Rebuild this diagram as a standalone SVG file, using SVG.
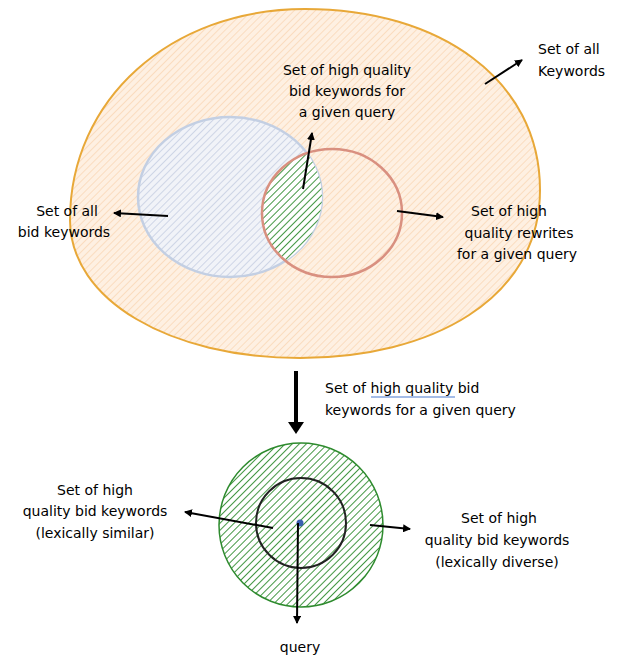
<svg xmlns="http://www.w3.org/2000/svg" width="618" height="658" viewBox="0 0 618 658">
<style>
text{font-family:"DejaVu Sans",sans-serif;font-size:14px;fill:#000}
.c{stroke:#000;stroke-width:2;fill:none;marker-end:url(#a)}
</style>
<defs>
<marker id="a" markerWidth="8" markerHeight="8" refX="7" refY="4" orient="auto" markerUnits="userSpaceOnUse"><path d="M0,0 L8,4 L0,8 z" fill="#000"/></marker>
<pattern id="po" width="5" height="5" patternUnits="userSpaceOnUse" patternTransform="rotate(45)"><rect width="5" height="5" fill="#fef0e2"/><line x1="0" y1="0" x2="0" y2="5" stroke="#f9d6b4" stroke-width="1.5"/></pattern>
<pattern id="pb" width="5" height="5" patternUnits="userSpaceOnUse" patternTransform="rotate(45)"><rect width="5" height="5" fill="#f1f3f8"/><line x1="0" y1="0" x2="0" y2="5" stroke="#c3cce0" stroke-width="1.5"/></pattern>
<pattern id="pg" width="5" height="5" patternUnits="userSpaceOnUse" patternTransform="rotate(45)"><rect width="5" height="5" fill="#fff"/><line x1="0" y1="0" x2="0" y2="5" stroke="#2e8b2e" stroke-width="1.8"/></pattern>
<clipPath id="cb"><ellipse cx="230" cy="197" rx="92" ry="80"/></clipPath>
</defs>
<g id="all-keywords"><path d="M305,9 C440,9 540,80 540,190 C540,300 430,358 300,358 C170,358 70,300 70,220 C70,100 170,9 305,9 Z" fill="url(#po)" stroke="#e8a838" stroke-width="2"/></g>
<g id="bid-keywords"><ellipse cx="230" cy="197" rx="92" ry="80" fill="url(#pb)" stroke="#c3cfe3" stroke-width="2.5"/></g>
<g id="intersection"><ellipse cx="332" cy="213" rx="70" ry="64" fill="url(#pg)" clip-path="url(#cb)"/></g>
<g id="rewrites"><ellipse cx="332" cy="213" rx="70" ry="64" fill="none" stroke="#d99080" stroke-width="2.5"/></g>
<g id="quality-set"><circle cx="301" cy="525" r="82" fill="url(#pg)" stroke="#2e8b2e" stroke-width="1.5"/><circle cx="301" cy="523" r="45" fill="none" stroke="#222" stroke-width="2"/><circle cx="300" cy="523" r="3.5" fill="#3a5fb0"/></g>
<g id="connectors">
<line class="c" x1="485" y1="84" x2="522" y2="60"/>
<line class="c" x1="303" y1="189" x2="312" y2="133"/>
<line class="c" x1="168" y1="216" x2="114" y2="213"/>
<line class="c" x1="397" y1="211" x2="443" y2="217"/>
<line x1="296" y1="371" x2="296" y2="424" stroke="#000" stroke-width="4"/><path d="M288,422 L304,422 L296,434 z" fill="#000"/>
<line class="c" x1="273" y1="528" x2="185" y2="512"/>
<line class="c" x1="370" y1="525" x2="410" y2="529"/>
<line class="c" x1="298" y1="523" x2="297" y2="623"/>
</g>
<g id="labels">
<text x="347" y="75" text-anchor="middle">Set of high quality</text>
<text x="347" y="96" text-anchor="middle">bid keywords for</text>
<text x="347" y="117" text-anchor="middle">a given query</text>
<text x="538" y="54">Set of all</text>
<text x="538" y="76">Keywords</text>
<text x="67" y="216" text-anchor="middle">Set of all</text>
<text x="64" y="237" text-anchor="middle">bid keywords</text>
<text x="509" y="216" text-anchor="middle">Set of high</text>
<text x="519" y="238" text-anchor="middle">quality  rewrites</text>
<text x="517" y="259" text-anchor="middle">for a given query</text>
<text x="325" y="393">Set of high quality bid</text>
<path d="M371,397 L455,397" stroke="#4a7bd0" stroke-width="1.2"/>
<text x="325" y="415">keywords for a given query</text>
<text x="95" y="495" text-anchor="middle">Set of high</text>
<text x="95" y="516" text-anchor="middle">quality bid keywords</text>
<text x="95" y="538" text-anchor="middle">(lexically similar)</text>
<text x="499" y="523" text-anchor="middle">Set of high</text>
<text x="497" y="545" text-anchor="middle">quality bid keywords</text>
<text x="497" y="567" text-anchor="middle">(lexically diverse)</text>
<text x="300" y="652" text-anchor="middle">query</text>
</g>
</svg>
